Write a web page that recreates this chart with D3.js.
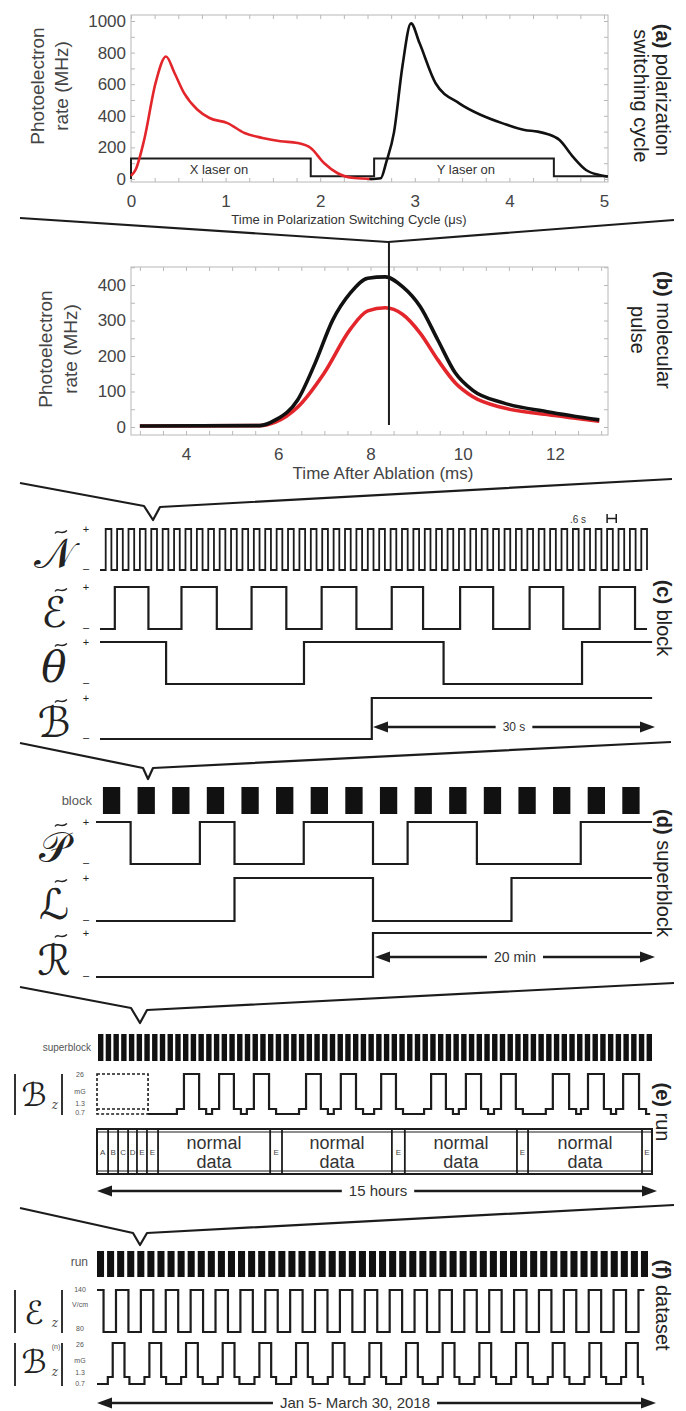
<!DOCTYPE html>
<html lang="en">
<head>
<meta charset="UTF-8" />
<title>switching timescales</title>
<style>
  body { margin: 0; background: #fff; }
  svg { display: block; }
</style>
</head>
<body>
<svg id="chart"></svg>
<script src="https://d3js.org/d3.v7.min.js"></script>
<script>
// ---------------- data ----------------
// (a) polarization switching cycle : time (us) / photoelectron rate (MHz)
const redTimeA = [0, 0.05, 0.14, 0.26, 0.37, 0.46, 0.56, 0.70, 0.83, 1.02, 1.20, 1.39, 1.58, 1.76, 1.90, 2.04, 2.18, 2.36, 2.55];
const redRateA = [20, 60, 250, 608, 775, 671, 545, 440, 386, 354, 291, 260, 239, 228, 196, 101, 38, 6, 0];
const blackTimeA = [2.52, 2.64, 2.70, 2.78, 2.87, 2.96, 3.05, 3.22, 3.47, 3.70, 3.93, 4.16, 4.30, 4.40, 4.53, 4.67, 4.81, 4.95, 5.04];
const blackRateA = [0, 5, 110, 295, 717, 985, 860, 606, 479, 405, 352, 310, 300, 285, 247, 142, 57, 25, 15];
const laserTimeA = [0, 0, 1.90, 2.57, 4.47, 5.04];
const laserLevelA = [0, 130, 18, 130, 18, 18];
const laserNames = ["X laser on", "Y laser on"];
const laserNameTime = [0.93, 3.54];
const aTicksX = [0, 1, 2, 3, 4, 5];
const aTicksY = [0, 200, 400, 600, 800, 1000];

// (b) molecular pulse : time after ablation (ms) / rate (MHz)
const blackTimeB = [3, 5.6, 5.94, 6.42, 6.80, 7.18, 7.56, 7.94, 8.32, 8.70, 9.08, 9.46, 9.84, 10.21, 10.88, 11.83, 12.96];
const blackRateB = [3, 4, 20, 76, 180, 301, 377, 419, 423, 395, 339, 245, 152, 104, 68, 43, 20];
const redTimeB = [3, 5.6, 5.94, 6.42, 6.99, 7.56, 7.94, 8.32, 8.70, 9.08, 9.46, 9.84, 10.21, 10.88, 11.83, 12.96];
const redRateB = [3, 4, 14, 56, 151, 275, 327, 336, 317, 264, 189, 124, 86, 54, 35, 16];
const cursorTimeB = 8.4;
const bTicksX = [4, 6, 8, 10, 12];
const bTicksY = [0, 100, 200, 300, 400];

// (c) block : time in N half periods
const nTrace = [0,1,0,1,0,1,0,1,0,1,0,1, 0,1,0,1,0,1,0,1,0,1,0,1,
                0,1,0,1,0,1,0,1,0,1,0,1, 0,1,0,1,0,1,0,1,0,1,0,1,
                0,1,0,1,0,1,0,1,0,1,0,1, 0,1,0,1,0,1,0,1,0,1,0,1,
                0,1,0,1,0,1,0,1,0,1,0,1, 0,1,0,1,0,1,0,1,0,1,0,1];
const eSwitch = [2.6, 8.5, 14.3, 20.5, 26.6, 32.7, 38.9, 45.0, 51.2, 56.7, 63.2, 69.0, 75.4, 81.3, 87.7, 93.9];
const thetaSwitch = [11.6, 35.8, 60.3, 84.6];
const bSwitch = [47.7];

// (d) superblock : time in blocks
const blockCount = 16;
const pSwitch = [1, 3, 4, 6, 8, 9, 11, 14];
const lSwitch = [4, 8, 12];
const rSwitch = [8];

// (e) run : time in hours
const superblockCount = 72;
const bzRunOn  = [2.35, 3.30, 4.24, 5.65, 6.59, 7.68, 9.03, 9.97, 10.92, 12.32, 13.27, 14.22];
const bzRunOff = [2.76, 3.70, 4.65, 6.05, 7.00, 8.08, 9.43, 10.38, 11.32, 12.76, 13.70, 14.65];
const runEdges = [0, 0.30, 0.57, 0.84, 1.08, 1.35, 1.65, 4.68, 5.0, 7.97, 8.32, 11.35, 11.65, 14.73, 15.0];
const runParts = ["A", "B", "C", "D", "E", "E", "normal data", "E", "normal data", "E", "normal data", "E", "normal data", "E"];

// (f) dataset : days after Jan 5
const runCount = 55;
const ezSwitch = [1.0, 2.9, 4.8, 6.7, 8.6, 10.5, 12.4, 14.3, 16.2, 18.1, 20.0, 21.9, 23.8, 25.7, 27.6, 29.5,
                  31.4, 33.3, 35.2, 37.1, 39.0, 40.9, 42.8, 44.7, 46.6, 48.5, 50.4, 52.3, 54.2, 56.1, 58.0,
                  59.9, 61.8, 63.7, 65.6, 67.5, 69.4, 71.3, 73.2, 75.1, 77.0, 78.9, 80.8, 82.7];
const bzSetOn  = [2.4, 8.0, 13.6, 19.2, 24.8, 30.4, 36.0, 41.6, 47.2, 52.8, 58.4, 64.0, 69.6, 75.2, 80.8];
const bzSetOff = [4.2, 9.8, 15.4, 21.0, 26.6, 32.2, 37.8, 43.4, 49.0, 54.6, 60.2, 65.8, 71.4, 77.0, 82.6];

// ---------------- drawing ----------------
const svg = d3.select("#chart").attr("width", 686).attr("height", 1411);
const INK = "#1c1c1c";
const SANS = "'Liberation Sans', Arial, sans-serif";
const MATH = "'DejaVu Serif', 'DejaVu Sans', serif";

svg.append("rect").attr("width", 686).attr("height", 1411).attr("fill", "#fff");

function txt(s, x, y, size, o = {}) {
  const t = svg.append("text")
    .attr("x", x).attr("y", y)
    .attr("font-size", size)
    .attr("font-family", o.family || SANS)
    .attr("fill", o.fill || "#333")
    .attr("text-anchor", o.anchor || "middle")
    .text(s);
  if (o.dy) t.attr("dy", o.dy);
  if (o.style) t.attr("font-style", o.style);
  if (o.weight) t.attr("font-weight", o.weight);
  return t;
}

// rotated side label, optional bold tag like "(a)"
function rotLabel(tag, rest, x, y, size, angle, fill) {
  const t = svg.append("text")
    .attr("transform", `translate(${x},${y}) rotate(${angle})`)
    .attr("text-anchor", "middle").attr("dy", "0.35em")
    .attr("font-size", size).attr("font-family", SANS).attr("fill", fill || "#222");
  if (tag) t.append("tspan").attr("font-weight", "bold").text(tag + " ");
  t.append("tspan").text(rest);
}

function poly(points, w, dash) {
  const p = svg.append("path").attr("d", d3.line()(points))
    .attr("fill", "none").attr("stroke", INK).attr("stroke-width", w || 2.2)
    .attr("stroke-linejoin", "round");
  if (dash) p.attr("stroke-dasharray", dash);
  return p;
}

function frame(box, x, y, xt, yt) {
  const g = svg.append("g");
  g.append("rect").attr("x", box.l).attr("y", box.t)
    .attr("width", box.r - box.l).attr("height", box.b - box.t)
    .attr("fill", "none").attr("stroke", "#b8b8b8");
  const ax = [
    [d3.axisBottom(x).tickValues(xt), `translate(0,${box.b})`],
    [d3.axisTop(x).tickValues(xt), `translate(0,${box.t})`],
    [d3.axisLeft(y).tickValues(yt), `translate(${box.l},0)`],
    [d3.axisRight(y).tickValues(yt), `translate(${box.r},0)`]
  ];
  ax.forEach(([a, tr]) => {
    g.append("g").attr("transform", tr)
      .call(a.tickSize(-4).tickFormat(""))
      .call(s => s.select(".domain").remove())
      .selectAll("line").attr("stroke", "#b8b8b8");
  });
}

function tickLabels(axis, tr, size) {
  svg.append("g").attr("transform", tr).call(axis.tickFormat(d3.format("d")))
    .call(s => s.select(".domain").remove())
    .selectAll("text").attr("font-size", size).attr("font-family", SANS).attr("fill", "#444");
}

// ===== (a) polarization switching cycle =====
const xA = d3.scaleLinear().domain([0, 5]).range([131, 604]);
const yA = d3.scaleLinear().domain([0, 1000]).range([179, 21]);
const boxA = { l: 131, r: 608, t: 15, b: 182 };
frame(boxA, xA, yA, d3.range(0, 5.01, 0.25), d3.range(0, 1001, 100));
tickLabels(d3.axisBottom(xA).tickValues(aTicksX).tickSize(0).tickPadding(13), `translate(0,${boxA.b})`, 17);
tickLabels(d3.axisLeft(yA).tickValues(aTicksY).tickSize(0).tickPadding(5), `translate(${boxA.l},0)`, 17);

const lineA = d3.line().x(d => xA(d[0])).y(d => yA(d[1])).curve(d3.curveMonotoneX);
svg.append("path").datum(d3.zip(laserTimeA, laserLevelA))
  .attr("d", d3.line().x(d => xA(d[0])).y(d => yA(d[1])).curve(d3.curveStepAfter))
  .attr("fill", "none").attr("stroke", INK).attr("stroke-width", 2);
laserNames.forEach((n, i) => txt(n, xA(laserNameTime[i]), yA(62), 13, { dy: "0.35em" }));
svg.append("path").datum(d3.zip(redTimeA, redRateA)).attr("d", lineA)
  .attr("fill", "none").attr("stroke", "#e3262b").attr("stroke-width", 2.6);
svg.append("path").datum(d3.zip(blackTimeA, blackRateA)).attr("d", lineA)
  .attr("fill", "none").attr("stroke", "#111").attr("stroke-width", 2.6);

txt("Time in Polarization Switching Cycle (μs)", 349, 224, 13);
rotLabel("", "Photoelectron", 37, 86, 19, -90, "#444");
rotLabel("", "rate (MHz)", 61, 86, 19, -90, "#444");
rotLabel("(a)", "polarization", 663, 90, 20, 90);
rotLabel("", "switching cycle", 641, 96, 20, 90);

// funnel a -> b
poly([[20, 218], [388, 242], [674, 220]]);

// ===== (b) molecular pulse =====
const xB = d3.scaleLinear().domain([4, 12]).range([186, 555]);
const yB = d3.scaleLinear().domain([0, 400]).range([427, 285]);
const boxB = { l: 131, r: 608, t: 267, b: 435 };
frame(boxB, xB, yB, d3.range(3, 13.1, 0.5), d3.range(0, 451, 50));
tickLabels(d3.axisBottom(xB).tickValues(bTicksX).tickSize(0).tickPadding(13), `translate(0,${boxB.b})`, 17);
tickLabels(d3.axisLeft(yB).tickValues(bTicksY).tickSize(0).tickPadding(5), `translate(${boxB.l},0)`, 17);

const lineB = d3.line().x(d => xB(d[0])).y(d => yB(d[1])).curve(d3.curveMonotoneX);
svg.append("path").datum(d3.zip(redTimeB, redRateB)).attr("d", lineB)
  .attr("fill", "none").attr("stroke", "#e3262b").attr("stroke-width", 3.6);
svg.append("path").datum(d3.zip(blackTimeB, blackRateB)).attr("d", lineB)
  .attr("fill", "none").attr("stroke", "#111").attr("stroke-width", 3.6);
svg.append("line").attr("x1", xB(cursorTimeB)).attr("x2", xB(cursorTimeB))
  .attr("y1", 242).attr("y2", yB(0) - 2).attr("stroke", INK).attr("stroke-width", 2);

txt("Time After Ablation (ms)", 383, 479, 17, { fill: "#444" });
rotLabel("", "Photoelectron", 45, 349, 19, -90, "#444");
rotLabel("", "rate (MHz)", 70, 349, 19, -90, "#444");
rotLabel("(b)", "molecular", 664, 330, 20, 90);
rotLabel("", "pulse", 638, 330, 20, 90);

// funnel b -> c
poly([[20, 483], [144, 506], [153, 520], [160, 507], [672, 479]]);

// ---- switch trace helpers ----
function stepPoints(start, switches, tEnd) {
  const pts = [[0, start]];
  let lvl = start;
  switches.forEach(t => { lvl = 1 - lvl; pts.push([t, lvl]); });
  pts.push([tEnd, lvl]);
  return pts;
}
function trace(pts, x, yOf, w) {
  svg.append("path").datum(pts)
    .attr("d", d3.line().x(d => x(d[0])).y(d => yOf(d[1])).curve(d3.curveStepAfter))
    .attr("fill", "none").attr("stroke", INK).attr("stroke-width", w || 2.2);
}
function symbol(s, hi, lo, italic) {
  txt(s, 54, lo - 2, 42, { family: MATH, fill: "#222", style: italic ? "italic" : null });
  // tilde drawn as a small wave above the letter
  const cx = 61, cy = hi + 3;
  svg.append("path")
    .attr("d", `M${cx - 6},${cy + 1.5}C${cx - 3},${cy - 3.5} ${cx},${cy + 4} ${cx + 6},${cy - 1.5}`)
    .attr("fill", "none").attr("stroke", "#222").attr("stroke-width", 1.4);
  txt("+", 86, hi, 11, { fill: "#222", dy: "0.35em" });
  txt("–", 86, lo - 2, 11, { fill: "#222", dy: "0.35em" });
}
function arrow(x1, x2, y, s, size, tx) {
  const t = txt(s, tx || (x1 + x2) / 2, y, size, { dy: "0.35em", fill: "#333" });
  const bb = t.node().getBBox();
  poly([[x1 + 10, y], [bb.x - 7, y]], 2.4);
  poly([[bb.x + bb.width + 7, y], [x2 - 10, y]], 2.4);
  svg.append("path").attr("d", `M${x1},${y}L${x1 + 15},${y - 5.5}L${x1 + 15},${y + 5.5}Z`).attr("fill", INK);
  svg.append("path").attr("d", `M${x2},${y}L${x2 - 15},${y - 5.5}L${x2 - 15},${y + 5.5}Z`).attr("fill", INK);
}

// ===== (c) block =====
const xC = d3.scaleLinear().domain([0, 96]).range([100, 647]);
const rowsC = [
  { s: "𝒩", hi: 529, lo: 570, pts: nTrace.map((v, i) => [i, v]).concat([[96, 0]]) },
  { s: "ℰ", hi: 587, lo: 629, pts: stepPoints(0, eSwitch, 96) },
  { s: "θ", hi: 642, lo: 684, pts: stepPoints(1, thetaSwitch, 96.9), it: true },
  { s: "ℬ", hi: 698, lo: 739, pts: stepPoints(0, bSwitch, 96.9) }
];
rowsC.forEach(r => {
  trace(r.pts, xC, v => v ? r.hi : r.lo, r.s === "𝒩" ? 1.8 : 2.2);
  symbol(r.s, r.hi, r.lo, r.it);
});
txt(".6 s", 578, 519, 10, { dy: "0.35em" });
poly([[xC(89), 514], [xC(89), 523]], 1.5);
poly([[xC(90.6), 514], [xC(90.6), 523]], 1.5);
poly([[xC(89), 518.5], [xC(90.6), 518.5]], 1.5);
arrow(373, 655, 727, "30 s", 12);
rotLabel("(c)", "block", 664, 618, 20, 90);

// funnel c -> d
poly([[20, 743], [143, 768], [148, 779], [153, 768], [671, 742]]);

// ===== (d) superblock =====
const xD = d3.scaleLinear().domain([0, 16]).range([96, 650]);
svg.append("g").selectAll("rect").data(d3.range(blockCount)).join("rect")
  .attr("x", k => xD(k + 0.2)).attr("width", xD(0.5) - xD(0))
  .attr("y", 787).attr("height", 27).attr("fill", "#111");
txt("block", 92, 800, 13, { anchor: "end", dy: "0.35em", fill: "#555" });
const rowsD = [
  { s: "𝒫", hi: 822, lo: 864, pts: stepPoints(1, pSwitch, 16.06) },
  { s: "ℒ", hi: 878, lo: 921, pts: stepPoints(0, lSwitch, 16.06) },
  { s: "ℛ", hi: 933, lo: 977, pts: stepPoints(0, rSwitch, 16.06) }
];
rowsD.forEach(r => {
  trace(r.pts, xD, v => v ? r.hi : r.lo);
  symbol(r.s, r.hi, r.lo, false);
});
arrow(375, 655, 957, "20 min", 14);
rotLabel("(d)", "superblock", 664, 873, 20, 90);

// funnel d -> e
poly([[20, 987], [131, 1008], [140, 1023], [147, 1010], [674, 983]]);

// ---- |B_z| staircase helper ----
function stairs(on, off, shoulder, t0, t1) {
  const pts = [[t0, 0.7]];
  on.forEach((t, i) => {
    pts.push([t - shoulder, 1.3], [t, 26], [off[i], 1.3], [off[i] + shoulder, 0.7]);
  });
  pts.push([t1, 0.7]);
  return pts;
}
function absSymbol(s, sub, sup, yTop, yBot, yBase) {
  poly([[15, yTop], [15, yBot]], 1.8);
  poly([[62, yTop], [62, yBot]], 1.8);
  txt(s, 34, yBase, 32, { family: MATH, fill: "#222" });
  txt(sub, 55, yBase + 3, 12, { family: MATH, fill: "#444", style: "italic" });
  if (sup) txt(sup, 56, yTop + 6, 7, { fill: "#555" });
}
function tinyTicks(labels, ys) {
  labels.forEach((l, i) => txt(l, 80, ys[i], 7, { dy: "0.35em", fill: "#555" }));
}

// ===== (e) run =====
const xE = d3.scaleLinear().domain([0, 15]).range([97, 652]);
const sbBand = d3.scaleBand().domain(d3.range(superblockCount)).range([98, 652]).paddingInner(0.3);
svg.append("g").selectAll("rect").data(d3.range(superblockCount)).join("rect")
  .attr("x", k => sbBand(k)).attr("width", sbBand.bandwidth())
  .attr("y", 1034).attr("height", 27).attr("fill", "#111");
txt("superblock", 91, 1047, 10, { anchor: "end", dy: "0.35em", fill: "#555" });

const bzE = { 0.7: 1114, 1.3: 1109, 26: 1074 };
trace(stairs(bzRunOn, bzRunOff, 0.19, 1.38, 14.95), xE, v => bzE[v]);
svg.append("rect").attr("x", xE(0)).attr("y", bzE[26])
  .attr("width", xE(1.38) - xE(0)).attr("height", bzE[0.7] - bzE[26])
  .attr("fill", "none").attr("stroke", INK).attr("stroke-width", 1.6).attr("stroke-dasharray", "3,2");
poly([[xE(0), bzE[1.3]], [xE(1.38), bzE[1.3]]], 1.6, "3,2");
absSymbol("ℬ", "z", "", 1074, 1115, 1106);
tinyTicks(["26", "mG", "1.3", "0.7"], [1075, 1092, 1104, 1113]);

// run box
svg.append("rect").attr("x", xE(0)).attr("y", 1129).attr("width", xE(15) - xE(0)).attr("height", 45)
  .attr("fill", "none").attr("stroke", INK).attr("stroke-width", 2);
svg.append("rect").attr("x", xE(0)).attr("y", 1132).attr("width", xE(15) - xE(0)).attr("height", 39)
  .attr("fill", "none").attr("stroke", INK).attr("stroke-width", 1);
runEdges.slice(1, -1).forEach(h => poly([[xE(h), 1129], [xE(h), 1174]], 1.8));
runParts.forEach((p, i) => {
  const cx = (xE(runEdges[i]) + xE(runEdges[i + 1])) / 2;
  if (p === "normal data") {
    txt("normal", cx, 1149, 18, { fill: "#333" });
    txt("data", cx, 1168, 18, { fill: "#333" });
  } else {
    txt(p, cx, 1152, 8, { fill: "#444", dy: "0.35em" });
  }
});
arrow(97, 657, 1191, "15 hours", 15, 378);
rotLabel("(e)", "run", 663, 1112, 20, 90);

// funnel e -> f
poly([[20, 1208], [133, 1233], [140, 1245], [147, 1233], [674, 1205]]);

// ===== (f) dataset =====
const xF = d3.scaleLinear().domain([0, 84]).range([97, 647]);
const runBand = d3.scaleBand().domain(d3.range(runCount)).range([97, 648]).paddingInner(0.3);
svg.append("g").selectAll("rect").data(d3.range(runCount)).join("rect")
  .attr("x", k => runBand(k)).attr("width", runBand.bandwidth())
  .attr("y", 1251).attr("height", 26).attr("fill", "#111");
txt("run", 88, 1266, 12, { anchor: "end", fill: "#555" });

trace(stepPoints(1, ezSwitch, 83.6), xF, v => v ? 1290 : 1332);
absSymbol("ℰ", "z", "", 1290, 1333, 1324);
tinyTicks(["140", "V/cm", "80"], [1290, 1305, 1329]);

const bzF = { 0.7: 1384, 1.3: 1377, 26: 1343 };
trace(stairs(bzSetOn, bzSetOff, 0.75, 0, 83.6), xF, v => bzF[v]);
absSymbol("ℬ", "z", "(n)", 1343, 1386, 1373);
tinyTicks(["26", "mG", "1.3", "0.7"], [1345, 1361, 1373, 1384]);

arrow(97, 656, 1403, "Jan 5- March 30, 2018", 15, 355);
rotLabel("(f)", "dataset", 663, 1305, 20, 90);
</script>
</body>
</html>
